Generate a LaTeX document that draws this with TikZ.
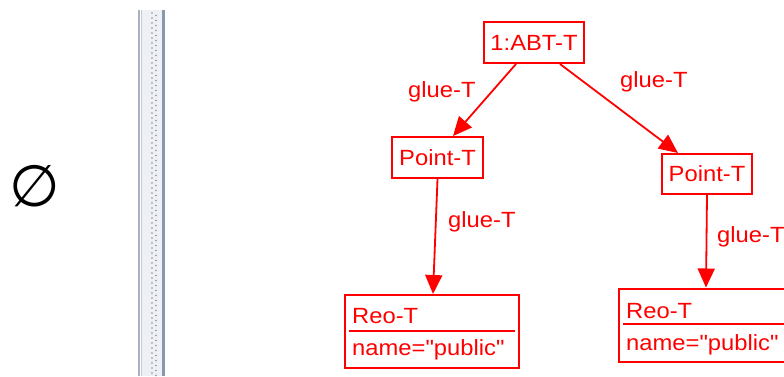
\documentclass[tikz,border=0pt]{standalone}
\usepackage{fontspec}
\setmainfont{Liberation Sans}[FakeStretch=1.08, Ligatures=TeXOff]
\newfontfamily\symfont{DejaVu Sans}
\usetikzlibrary{arrows.meta,calc}
\definecolor{umlred}{HTML}{FF0000}
\definecolor{divA}{HTML}{A8B2C2}
\definecolor{divC}{HTML}{C4CCD8}
\definecolor{divlight}{HTML}{EEF0F3}
\definecolor{divdark}{HTML}{8A98AE}
\definecolor{divdot}{HTML}{8494AC}
\begin{document}
\begin{tikzpicture}[x=1pt,y=-1pt,
  box/.style={draw=umlred, line width=2pt, inner sep=0pt, text=umlred,
    font=\fontsize{22}{26}\selectfont},
  lbl/.style={text=umlred, inner sep=0pt, anchor=base west,
    font=\fontsize{22}{26}\selectfont},
  divline/.style={draw=umlred, line width=2pt},
  edge/.style={draw=umlred, line width=1.8pt, -{Triangle[length=19pt,width=17pt]}}
]
\useasboundingbox (0,0) rectangle (784,376);
\clip (0,0) rectangle (784,376);
\fill[white] (0,0) rectangle (784,376);

% empty-set symbol
\node[inner sep=0pt, font=\symfont\fontsize{58}{58}\selectfont] (empty) at (35,186.5) {∅};

% divider
\fill[divA] (138,10) rectangle (140,376);
\fill[divC] (141,10) rectangle (142,376);
\fill[divlight] (142,10) rectangle (161.5,376);
\fill[divdark] (161.5,10) rectangle (165,376);
\foreach \k in {0,...,73} {
  \fill[divdot] (152,{13+5*\k}) circle (0.8);
  \fill[divdot] (156,{15.5+5*\k}) circle (0.8);
}

% nodes
\node[box, minimum width=100pt, minimum height=41pt] (abt) at (534,42.5) {1:ABT-T};
\node[box, minimum width=91pt, minimum height=41pt] (ptl) at (437.5,157.5) {Point-T};
\node[box, minimum width=90pt, minimum height=40pt] (ptr) at (707,174) {Point-T};
\node[box, minimum width=174pt, minimum height=73pt] (reol) at (432,331.5) {};
\node[box, minimum width=174pt, minimum height=73pt] (reor) at (706,325) {};

\node[lbl] (reolt) at (352,323) {Reo-T};
\node[lbl] (reola) at (352,355) {name="public"};
\draw[divline] ($(reol.north west)+(5,36.5)$) -- ($(reol.north east)+(-5,36.5)$);
\node[lbl] (reort) at (626,318) {Reo-T};
\node[lbl] (reora) at (626,350) {name="public"};
\draw[divline] ($(reor.north west)+(5,36)$) -- ($(reor.north east)+(-5,36)$);

% edges
\draw[edge] ([xshift=-18pt]abt.south) -- ([xshift=15.5pt]ptl.north);
\draw[edge] ([xshift=26pt]abt.south) -- ([xshift=-29pt]ptr.north);
\draw[edge] (ptl.south) -- ([xshift=1pt]reol.north);
\draw[edge] (ptr.south) -- (reor.north);

% labels
\node[lbl] (g1) at (408,97.5) {glue-T};
\node[lbl] (g2) at (620,87.5) {glue-T};
\node[lbl] (g3) at (448,227.5) {glue-T};
\node[lbl] (g4) at (717,242.5) {glue-T};
\end{tikzpicture}
\end{document}
